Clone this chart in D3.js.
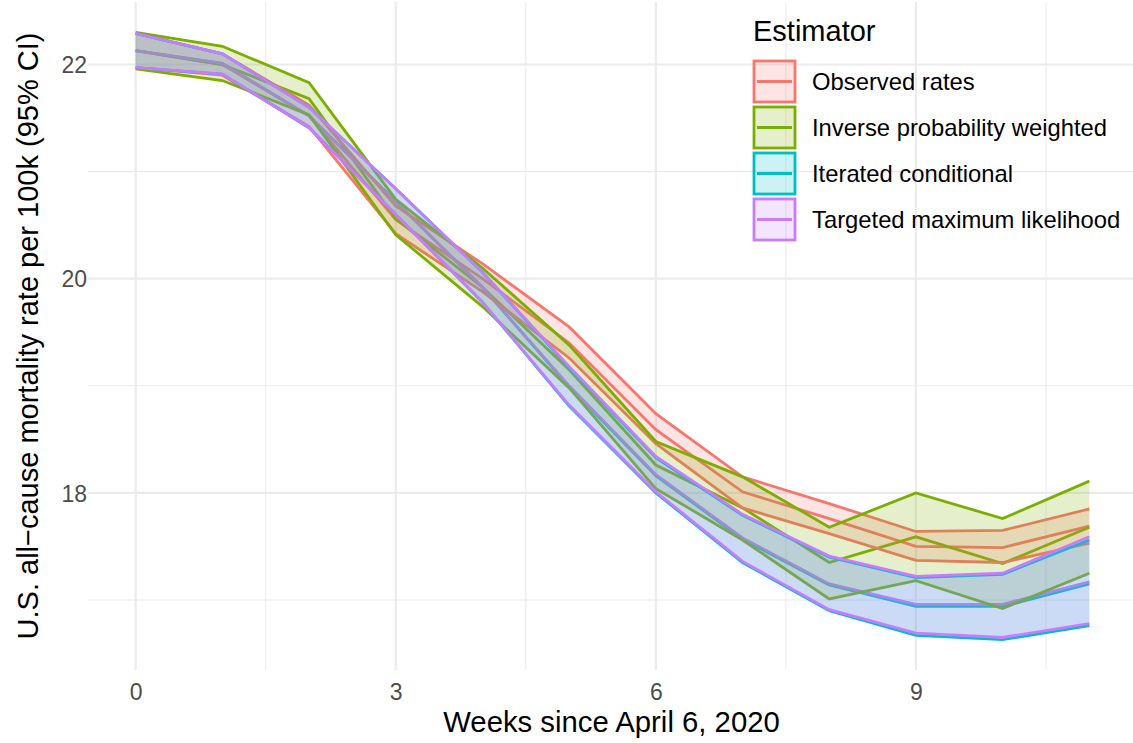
<!DOCTYPE html>
<html>
<head>
<meta charset="utf-8">
<script src="https://cdn.jsdelivr.net/npm/d3@7"></script>
<style>
  body { margin: 0; background: #fff; }
  text { font-family: "Liberation Sans", Arial, sans-serif; }
</style>
</head>
<body>
<div id="chart"></div>
<script>
// weeks since April 6, 2020
const weeks = [0, 1, 2, 3, 4, 5, 6, 7, 8, 9, 10, 11];

const estimators = ["Observed rates", "Inverse probability weighted", "Iterated conditional", "Targeted maximum likelihood"];
const colors = ["#F8766D", "#7CAE00", "#00BFC4", "#C77CFF"];

// Observed rates
const obsLower = [21.97, 21.90, 21.42, 20.42, 19.88, 19.26, 18.46, 17.86, 17.62, 17.37, 17.35, 17.53];
const obsMean  = [22.13, 22.00, 21.52, 20.55, 20.00, 19.40, 18.59, 18.01, 17.76, 17.50, 17.49, 17.69];
const obsUpper = [22.29, 22.10, 21.62, 20.68, 20.14, 19.55, 18.74, 18.15, 17.90, 17.64, 17.65, 17.85];

// Inverse probability weighted
const ipwLower = [21.96, 21.85, 21.53, 20.41, 19.74, 18.98, 18.04, 17.56, 17.01, 17.18, 16.92, 17.25];
const ipwMean  = [22.13, 22.00, 21.68, 20.56, 19.92, 19.15, 18.26, 17.86, 17.35, 17.59, 17.34, 17.68];
const ipwUpper = [22.30, 22.17, 21.83, 20.74, 20.10, 19.38, 18.48, 18.15, 17.68, 18.00, 17.76, 18.11];

// Iterated conditional
const iceLower = [21.97, 21.91, 21.41, 20.60, 19.78, 18.81, 18.00, 17.35, 16.90, 16.67, 16.63, 16.76];
const iceMean  = [22.13, 22.01, 21.52, 20.72, 19.92, 18.99, 18.16, 17.57, 17.14, 16.94, 16.94, 17.15];
const iceUpper = [22.29, 22.10, 21.60, 20.84, 20.06, 19.17, 18.33, 17.79, 17.40, 17.21, 17.24, 17.56];

// Targeted maximum likelihood
const tmleLower = [21.97, 21.91, 21.41, 20.60, 19.78, 18.82, 18.01, 17.36, 16.91, 16.69, 16.65, 16.78];
const tmleMean  = [22.13, 22.01, 21.52, 20.72, 19.92, 19.00, 18.17, 17.58, 17.15, 16.96, 16.96, 17.17];
const tmleUpper = [22.29, 22.10, 21.60, 20.84, 20.06, 19.18, 18.34, 17.80, 17.41, 17.22, 17.25, 17.59];

const xTicks = [0, 3, 6, 9];
const yTicks = [18, 20, 22];

// build one series object per estimator
const lowers = [obsLower, ipwLower, iceLower, tmleLower];
const means = [obsMean, ipwMean, iceMean, tmleMean];
const uppers = [obsUpper, ipwUpper, iceUpper, tmleUpper];
const series = estimators.map((name, i) => ({
	name: name,
	color: colors[i],
	pts: weeks.map((w, j) => ({ x: w, lo: lowers[i][j], mid: means[i][j], hi: uppers[i][j] }))
}));

const W = 1133, H = 743;
const panel = { left: 88, right: 1137, top: 2, bottom: 670 };

const svg = d3.select("#chart").append("svg")
	.attr("width", W)
	.attr("height", H);

// ggplot style 5% expansion
const xr = d3.extent(weeks);
const xpad = (xr[1] - xr[0]) * 0.05;
const allVals = lowers.flat().concat(uppers.flat());
const yr = d3.extent(allVals);
const ypad = (yr[1] - yr[0]) * 0.05;

const x = d3.scaleLinear().domain([xr[0] - xpad, xr[1] + xpad]).range([panel.left, panel.right]);
const y = d3.scaleLinear().domain([yr[0] - ypad, yr[1] + ypad]).range([panel.bottom, panel.top]);

// grid
const grid = svg.append("g");
const minorX = [1.5, 4.5, 7.5, 10.5];
const minorY = [17, 19, 21];
grid.selectAll(".mx").data(minorX).enter().append("line")
	.attr("x1", d => x(d)).attr("x2", d => x(d))
	.attr("y1", panel.top).attr("y2", panel.bottom)
	.attr("stroke", "#ebebeb").attr("stroke-width", 1.1);
grid.selectAll(".my").data(minorY).enter().append("line")
	.attr("y1", d => y(d)).attr("y2", d => y(d))
	.attr("x1", panel.left).attr("x2", panel.right)
	.attr("stroke", "#ebebeb").attr("stroke-width", 1.1);
grid.selectAll(".gx").data(xTicks).enter().append("line")
	.attr("x1", d => x(d)).attr("x2", d => x(d))
	.attr("y1", panel.top).attr("y2", panel.bottom)
	.attr("stroke", "#ebebeb").attr("stroke-width", 2.2);
grid.selectAll(".gy").data(yTicks).enter().append("line")
	.attr("y1", d => y(d)).attr("y2", d => y(d))
	.attr("x1", panel.left).attr("x2", panel.right)
	.attr("stroke", "#ebebeb").attr("stroke-width", 2.2);

// mean lines first, ribbons (fill + outline) on top, as ggplot drew them
const line = d3.line().x(d => x(d.x)).y(d => y(d.mid));
const area = d3.area().x(d => x(d.x)).y0(d => y(d.lo)).y1(d => y(d.hi));
const lineLo = d3.line().x(d => x(d.x)).y(d => y(d.lo));
const lineHi = d3.line().x(d => x(d.x)).y(d => y(d.hi));

const marks = svg.append("g");
series.forEach(s => {
	marks.append("path").attr("d", line(s.pts))
		.attr("fill", "none").attr("stroke", s.color).attr("stroke-width", 2.8);
});
series.forEach(s => {
	marks.append("path").attr("d", area(s.pts))
		.attr("fill", s.color).attr("fill-opacity", 0.2).attr("stroke", "none");
	marks.append("path").attr("d", lineLo(s.pts))
		.attr("fill", "none").attr("stroke", s.color).attr("stroke-width", 2.8);
	marks.append("path").attr("d", lineHi(s.pts))
		.attr("fill", "none").attr("stroke", s.color).attr("stroke-width", 2.8);
});

// axes
const xAxis = svg.append("g").attr("transform", `translate(0,${panel.bottom + 8})`)
	.call(d3.axisBottom(x).tickValues(xTicks).tickSize(0).tickPadding(6).tickFormat(d3.format("d")));
const yAxis = svg.append("g").attr("transform", `translate(${panel.left - 1},0)`)
	.call(d3.axisLeft(y).tickValues(yTicks).tickSize(0).tickPadding(0).tickFormat(d3.format("d")));
[xAxis, yAxis].forEach(a => {
	a.select(".domain").remove();
	a.selectAll("text")
		.attr("fill", "#4d4d4d")
		.style("font-size", "23px")
		.style("font-family", "'Liberation Sans', Arial, sans-serif");
});
yAxis.selectAll("text").attr("dy", "0.36em");

svg.append("text")
	.attr("x", (panel.left + 1133) / 2 + 1)
	.attr("y", 732)
	.attr("text-anchor", "middle")
	.style("font-size", "29.3px")
	.text("Weeks since April 6, 2020");

svg.append("text")
	.attr("transform", `translate(38,${(panel.top + panel.bottom) / 2}) rotate(-90)`)
	.attr("text-anchor", "middle")
	.style("font-size", "29px")
	.text("U.S. all\u2212cause mortality rate per 100k (95% CI)");

// legend
const legend = svg.append("g").attr("transform", "translate(753,0)");
legend.append("text")
	.attr("x", 0).attr("y", 41)
	.style("font-size", "29px")
	.text("Estimator");
const keys = legend.selectAll(".key").data(series).enter().append("g")
	.attr("transform", (d, i) => `translate(0,${60 + i * 46})`);
keys.append("rect")
	.attr("x", 1).attr("y", 1).attr("width", 41).attr("height", 41)
	.attr("fill", d => d.color).attr("fill-opacity", 0.2)
	.attr("stroke", d => d.color).attr("stroke-width", 2.8);
keys.append("line")
	.attr("x1", 4).attr("x2", 39).attr("y1", 21.5).attr("y2", 21.5)
	.attr("stroke", d => d.color).attr("stroke-width", 2.8);
keys.append("text")
	.attr("x", 59).attr("y", 21.5).attr("dy", "0.36em")
	.style("font-size", "23.8px")
	.text(d => d.name);
</script>
</body>
</html>
